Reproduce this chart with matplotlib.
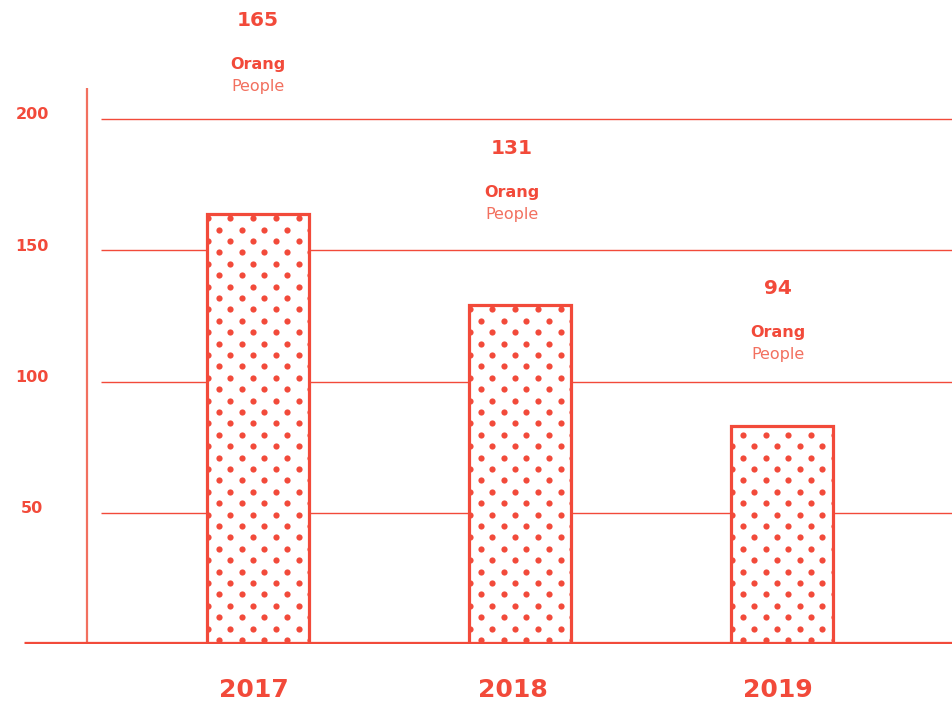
import numpy as np
import matplotlib
matplotlib.use("Agg")
import matplotlib.pyplot as plt
from matplotlib import transforms

# data
years = ["2017", "2018", "2019"]
bar_heights = [164, 129, 83]
label_values = [165, 131, 94]
grid_values = [50, 100, 150, 200]
tick_labels = ["50", "100", "150", "200"]

RED = "#F24A3A"
LIGHT_RED = "#F2705F"

W, H = 952, 703
fig = plt.figure(figsize=(W / 100, H / 100), dpi=100)
ax = fig.add_axes([0, 59 / H, 1, 644 / H])
px_y = 2.625          # pixels per data unit on y
px_x = 262.0          # pixels per category step
x0_px = 258           # pixel centre of first bar
ax.set_xlim(-x0_px / px_x, (W - x0_px) / px_x)
ax.set_ylim(0, 644 / px_y)
ax.axis("off")

x = np.arange(len(years))
width = 102 / px_x
# small horizontal nudges (pixels) of the text seen in the original
label_shift = [0, -8, -4]
year_shift = [-4, -7, -4]

# grid lines, vertical axis, thick baseline
ax.hlines(grid_values, (101 - x0_px) / px_x, (W - x0_px) / px_x,
          color=RED, lw=1.0, zorder=1)
ax.vlines((87 - x0_px) / px_x, 0, (644 - 88) / px_y, color=LIGHT_RED, lw=1.6, zorder=1)
ax.hlines(0, (24 - x0_px) / px_x, (W - x0_px) / px_x, color=RED, lw=3.8, zorder=6)

# bars: white face, dotted fill, outline on top
faces = ax.bar(x, bar_heights, width=width, color="white", edgecolor="none", zorder=2)
ax.bar(x, bar_heights, width=width, color="none", edgecolor=RED, lw=2.3, zorder=4)

row_step = 11.4 / px_y
col_step = 22.7 / px_x
for xi, h, patch in zip(x, bar_heights, faces):
    left = xi - width / 2
    k = 0
    while True:
        yy = 1.5 + k * row_step
        if yy > h + 1:
            break
        start = left + (12 if k % 2 == 0 else 0.7) / px_x
        xs = np.arange(start, left + width + col_step * 0.3, col_step)
        dots = ax.scatter(xs, np.full_like(xs, yy), s=20, color=RED,
                          linewidths=0, zorder=3)
        dots.set_clip_path(patch)
        k += 1

# y tick labels
blend = transforms.blended_transform_factory(fig.transFigure, ax.transData)
for v, t in zip(grid_values, tick_labels):
    ax.annotate(t, (32 / W, v), xycoords=blend, xytext=(0, 3), textcoords="offset points",
                ha="center", va="center", fontsize=11.5, fontweight="bold", color=RED)

# year labels under the baseline
for xi, yr, dx in zip(x, years, year_shift):
    ax.annotate(yr, (xi + dx / px_x, 0), xytext=(0, -33), textcoords="offset points",
                ha="center", va="center", fontsize=18, fontweight="bold", color=RED,
                annotation_clip=False)

# value labels above the bars
for xi, v, dx in zip(x, label_values, label_shift):
    y_lab = v * 1.44
    xl = xi + dx / px_x
    ax.annotate(str(v), (xl, y_lab), ha="center", va="center", fontsize=14.5,
                fontweight="bold", color=RED, annotation_clip=False)
    ax.annotate("Orang", (xl, y_lab), xytext=(0, -31.7), textcoords="offset points",
                ha="center", va="center", fontsize=11.5, fontweight="bold", color=RED,
                annotation_clip=False)
    ax.annotate("People", (xl, y_lab), xytext=(0, -47.5), textcoords="offset points",
                ha="center", va="center", fontsize=11.5, color=LIGHT_RED,
                annotation_clip=False)

fig.savefig("out.png", dpi=100, facecolor="white")
